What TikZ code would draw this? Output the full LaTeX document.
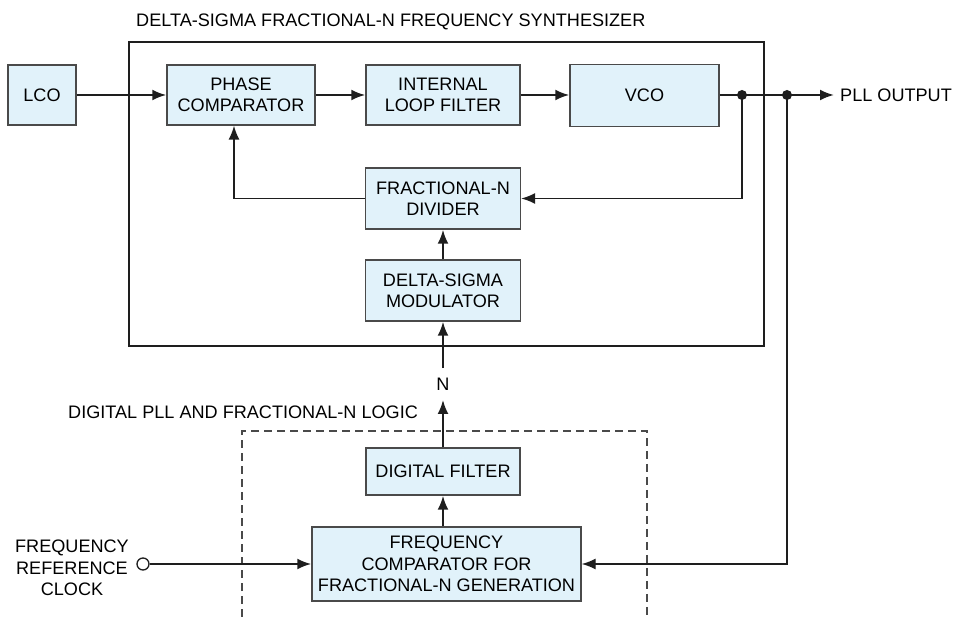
\documentclass[tikz,border=0pt]{standalone}
\usepackage{fontspec}
\setmainfont{Liberation Sans}
\usetikzlibrary{arrows.meta,positioning}
\definecolor{boxfill}{HTML}{E1F2FA}
\definecolor{boxline}{HTML}{4A4A4A}
\definecolor{wire}{HTML}{1E1E1E}
\tikzset{
  blk/.style={draw=boxline, line width=1.4pt, fill=boxfill, align=center, inner sep=0pt},
  sig/.style={draw=wire, line width=2.2pt, -{Latex[length=14pt,width=11pt]}},
  fb/.style={draw=wire, line width=1.4pt, -{Latex[length=14pt,width=11pt]}},
  plain/.style={draw=wire, line width=1.4pt},
  dotj/.style={circle, fill=wire, inner sep=0pt, minimum size=10pt},
  lbl/.style={inner sep=0pt, align=center}
}
\begin{document}
\begin{tikzpicture}[x=1pt,y=-1pt,font=\fontsize{18.1}{21.3}\selectfont]
\useasboundingbox (0,0) rectangle (954,617);

% frames
\draw[plain] (129,42) rectangle (764,346);
\draw[draw=boxline, line width=1.4pt, dash pattern=on 8pt off 5pt] (242,617) -- (242,431) -- (647,431) -- (647,617);

% titles
\node[lbl, anchor=west] (title) at (136,22) {DELTA-SIGMA FRACTIONAL-N FREQUENCY SYNTHESIZER};
\node[lbl, anchor=west] (dtitle) at (68,412) {DIGITAL PLL AND FRACTIONAL-N LOGIC};

% blocks
\node[blk, minimum width=68pt, minimum height=60pt] (lco) at (42,95) {LCO};
\node[blk, minimum width=148pt, minimum height=60pt] (pc) at (241,95) {PHASE\\COMPARATOR};
\node[blk, minimum width=154pt, minimum height=60pt] (ilf) at (443,95) {INTERNAL\\LOOP FILTER};
\node[blk, minimum width=149pt, minimum height=62pt] (vco) at (644.5,95.5) {VCO};
\node[blk, minimum width=155pt, minimum height=61pt] (div) at (443,198.5) {FRACTIONAL-N\\DIVIDER};
\node[blk, minimum width=155pt, minimum height=61pt] (dsm) at (443,290.5) {DELTA-SIGMA\\MODULATOR};
\node[blk, minimum width=154pt, minimum height=47pt] (df) at (443,471.5) {DIGITAL FILTER};
\node[blk, minimum width=269pt, minimum height=74pt] (fc) at (446.5,564) {FREQUENCY\\COMPARATOR FOR\\FRACTIONAL-N GENERATION};

% N label
\node[lbl, inner ysep=9.5pt] (nlab) at (443,384) {N};

% clock input
\node[lbl, anchor=east] (clktxt) at (129,568) {FREQUENCY\\REFERENCE\\CLOCK};
\node[circle, draw=wire, line width=1.3pt, fill=white, minimum size=12pt, inner sep=0pt] (clk) at (143,564) {};

% junctions
\coordinate (d1) at (742,95);
\coordinate (d2) at (787,95);
\coordinate (outc) at (834,95);
\node[lbl, anchor=west] (out) at (840,95) {PLL OUTPUT};

% forward path
\draw[sig] (lco) -- (pc);
\draw[sig] (pc) -- (ilf);
\draw[sig] (ilf) -- (vco.west |- ilf);
\draw[sig] (vco.east |- outc) -- (outc);
\node[dotj] at (d1) {};
\node[dotj] at (d2) {};

% feedback in synthesizer
\draw[fb] (d1) |- (div.east);
\draw[fb] (div.west) -| ([xshift=-7pt]pc.south);
\draw[sig] (dsm) -- (div);
\draw[sig] (nlab.north) -- (dsm.south);
\draw[sig] (df.north) -- (nlab.south);
\draw[sig] (df.south |- fc.north) -- (df.south);

% digital loop
\draw[sig] (clk) -- (fc);
\draw[fb] (d2) |- (fc.east);
\end{tikzpicture}
\end{document}
